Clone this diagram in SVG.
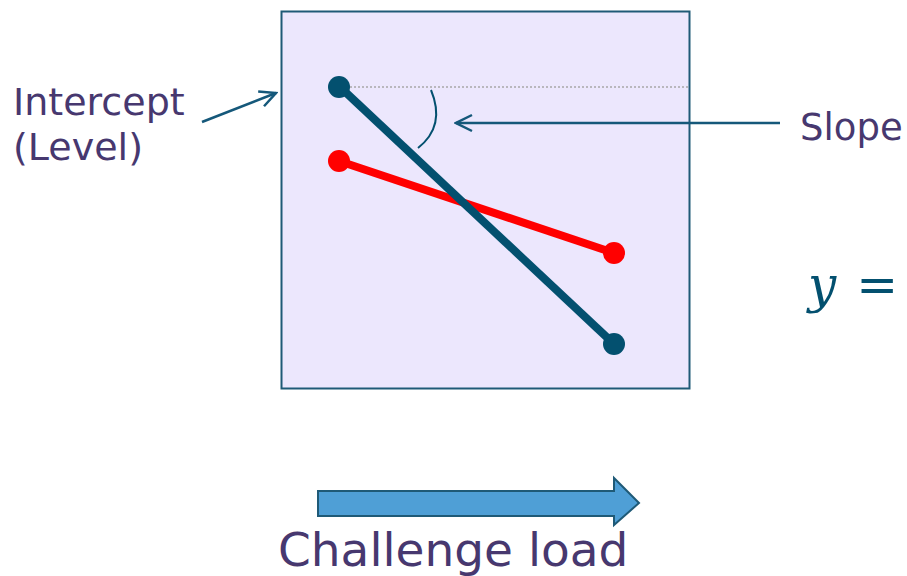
<svg xmlns="http://www.w3.org/2000/svg" width="907" height="576" viewBox="0 0 907 576">
<style>
.lbl{font-family:"DejaVu Sans",Verdana,sans-serif;fill:#47386F}
.ptr{fill:none;stroke:#15587A;stroke-width:2.5}
</style>
<defs>
<marker id="open" viewBox="0 0 20 20" refX="18" refY="10" markerWidth="20" markerHeight="20" markerUnits="userSpaceOnUse" orient="auto">
<path d="M2,2 L18,10 L2,18" fill="none" stroke="#15587A" stroke-width="2.5"/>
</marker>
</defs>
<rect width="907" height="576" fill="#fff"/>
<g id="plot">
<rect x="281.5" y="11.5" width="408" height="377" fill="#ECE7FD" stroke="#1F5A77" stroke-width="2"/>
<line x1="342" y1="87" x2="688" y2="87" stroke="#A8A8A8" stroke-width="1.5" stroke-dasharray="2,2"/>
<line x1="339" y1="161" x2="614" y2="253" stroke="#FF0000" stroke-width="8"/>
<circle cx="339" cy="161" r="11" fill="#FF0000"/>
<circle cx="614" cy="253" r="11" fill="#FF0000"/>
<line x1="340" y1="87" x2="614" y2="344" stroke="#03506F" stroke-width="8"/>
<circle cx="339" cy="87" r="11" fill="#03506F"/>
<circle cx="614" cy="344" r="11" fill="#03506F"/>
<path d="M431,90 Q446,126 418,148" fill="none" stroke="#03506F" stroke-width="2"/>
</g>
<g id="connectors">
<line class="ptr" x1="780" y1="123" x2="456" y2="123" marker-end="url(#open)"/>
<line class="ptr" x1="202" y1="122" x2="276" y2="93" marker-end="url(#open)"/>
</g>
<g id="intercept"><text class="lbl" x="13" y="115" font-size="38">Intercept</text><text class="lbl" x="13" y="160" font-size="38">(Level)</text></g>
<g id="slope"><text class="lbl" x="800" y="140" font-size="37">Slope</text></g>
<g id="equation"><text x="808" y="302" font-family="'DejaVu Serif','Liberation Serif',serif" font-style="italic" font-size="50" fill="#03506F">y <tspan font-style="normal" dx="4">=</tspan></text></g>
<g id="challenge">
<path d="M318,491 H614 V478 L639,503 L614,525 V516 H318 Z" fill="#4F9FD6" stroke="#1F5A77" stroke-width="2"/>
<text class="lbl" x="278" y="566" font-size="47">Challenge load</text>
</g>
</svg>
